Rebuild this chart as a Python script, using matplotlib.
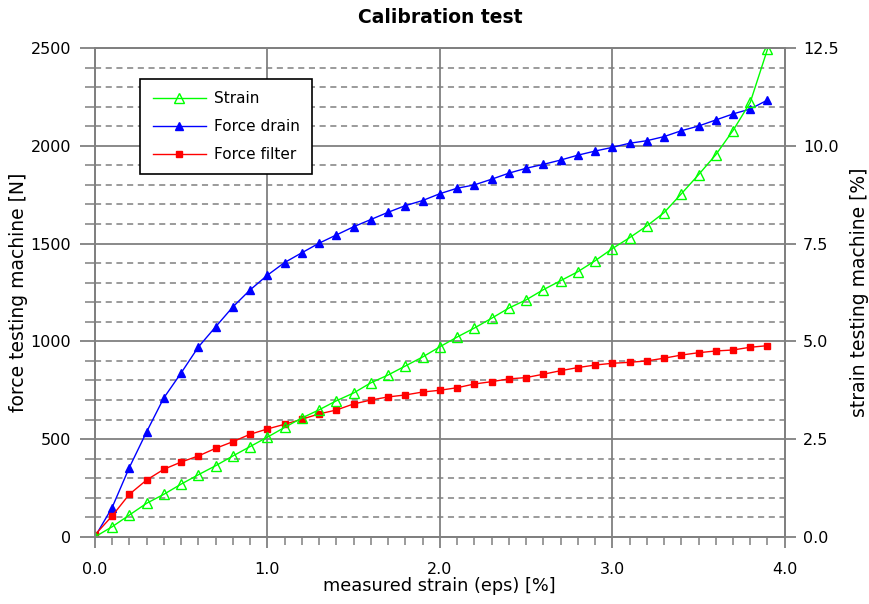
import numpy as np
import matplotlib
matplotlib.use('Agg')
import matplotlib.pyplot as plt
from matplotlib.ticker import MultipleLocator

# measured strain [%], one point every 0.1
eps = [0.0, 0.1, 0.2, 0.3, 0.4, 0.5, 0.6, 0.7, 0.8, 0.9,
       1.0, 1.1, 1.2, 1.3, 1.4, 1.5, 1.6, 1.7, 1.8, 1.9,
       2.0, 2.1, 2.2, 2.3, 2.4, 2.5, 2.6, 2.7, 2.8, 2.9,
       3.0, 3.1, 3.2, 3.3, 3.4, 3.5, 3.6, 3.7, 3.8, 3.9]

# strain testing machine [%] (right axis)
strain = [0.0, 0.26, 0.56, 0.86, 1.09, 1.35, 1.59, 1.82, 2.07, 2.31,
          2.55, 2.80, 3.04, 3.25, 3.48, 3.68, 3.94, 4.14, 4.37, 4.60,
          4.86, 5.11, 5.34, 5.59, 5.85, 6.06, 6.32, 6.55, 6.78, 7.06,
          7.37, 7.65, 7.95, 8.29, 8.77, 9.26, 9.77, 10.39, 11.11, 12.47]

# force testing machine [N] (left axis)
force_drain = [0, 150, 355, 537, 711, 838, 971, 1074, 1176, 1263,
               1338, 1403, 1453, 1502, 1544, 1586, 1623, 1660, 1694, 1720,
               1755, 1783, 1800, 1829, 1860, 1885, 1905, 1927, 1952, 1973,
               1992, 2013, 2026, 2047, 2077, 2101, 2132, 2163, 2188, 2234]

force_filter = [10, 107, 218, 291, 346, 383, 414, 453, 487, 525,
                552, 576, 602, 629, 649, 680, 700, 716, 726, 741,
                750, 763, 782, 794, 808, 815, 832, 850, 866, 879,
                888, 893, 900, 914, 930, 942, 951, 956, 970, 978]

grey = '#808080'

fig = plt.figure(figsize=(8.7, 6.04), dpi=100)
ax = fig.add_axes([0.109, 0.111, 0.793, 0.8095])
ax2 = ax.twinx()

ax.set_xlim(0, 4.0)
ax.set_ylim(0, 2500)
ax2.set_ylim(0, 12.5)

# grid: solid majors, dashed minors (horizontal only)
ax.xaxis.set_major_locator(MultipleLocator(1.0))
ax.xaxis.set_minor_locator(MultipleLocator(0.1))
ax.yaxis.set_major_locator(MultipleLocator(500))
ax.yaxis.set_minor_locator(MultipleLocator(100))
ax2.yaxis.set_major_locator(MultipleLocator(2.5))
ax.grid(which='major', color=grey, linestyle='-', linewidth=1.3)
ax.grid(which='minor', axis='y', color=grey, linestyle=(0, (4, 3)), linewidth=1.1)
ax.set_axisbelow(True)

ax.xaxis.set_major_formatter(plt.FormatStrFormatter('%.1f'))
ax2.yaxis.set_major_formatter(plt.FormatStrFormatter('%.1f'))

for a in (ax, ax2):
    for s in a.spines.values():
        s.set_color(grey)
        s.set_linewidth(1.3)
ax.tick_params(axis='y', which='major', length=11, width=1.3, color=grey,
               labelsize=11.5, pad=6)
ax.tick_params(axis='y', which='minor', length=7, width=1.1, color=grey)
ax.tick_params(axis='x', which='major', length=8, width=1.3, color=grey,
               labelsize=11.5, pad=10)
ax.tick_params(axis='x', which='minor', length=6, width=1.1, color=grey)
ax2.tick_params(which='major', length=8, width=1.3, color=grey,
                labelsize=11.5, pad=5)

l_drain, = ax.plot(eps, force_drain, color='#0000ff', lw=1, marker='^', ms=6,
                   mfc='#0000ff', mec='#0000ff', label='Force drain')
l_filter, = ax.plot(eps, force_filter, color='#ff0000', lw=1, marker='s', ms=5,
                    mfc='#ff0000', mec='#ff0000', label='Force filter')
l_strain, = ax2.plot(eps, strain, color='#00ff00', lw=1, marker='^', ms=6.5,
                     mfc='none', mec='#00ff00', label='Strain')

ax.set_xlabel('measured strain (eps) [%]', fontsize=12.8, labelpad=0)
ax.set_ylabel('force testing machine [N]', fontsize=13.5, labelpad=2)
ax2.set_ylabel('strain testing machine [%]', fontsize=13.5, labelpad=8)
ax.set_title('Calibration test', fontsize=13.5, fontweight='bold', pad=18)

leg = ax2.legend(handles=[l_strain, l_drain, l_filter], loc='upper left',
                 bbox_to_anchor=(0.066, 0.937), fancybox=False, framealpha=1,
                 edgecolor='black', fontsize=11, borderpad=0.8,
                 handlelength=3.5, handletextpad=0.5, labelspacing=0.85,
                 borderaxespad=0)
leg.get_frame().set_linewidth(1.2)

fig.savefig('out.png', dpi=100)
